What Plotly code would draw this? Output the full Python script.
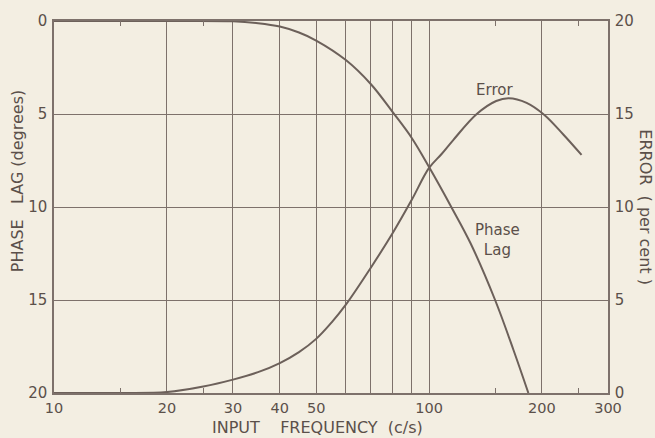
import plotly.graph_objects as go

# Phase lag (degrees) against input frequency (c/s)
lag_freq = [10, 20, 30, 35, 40, 45, 50, 60, 70, 80, 90, 100, 115, 129, 150, 168, 184]
lag_deg = [0, 0, 0.02, 0.12, 0.3, 0.62, 1.05, 2.1, 3.4, 4.9, 6.3, 7.85, 10.05, 11.95, 15.0, 17.7, 20.0]

# Error (per cent) against input frequency (c/s)
err_freq = [10, 15, 20, 25, 30, 35, 40, 45, 50, 55, 60, 70, 80, 90, 100, 108, 116, 134, 151, 163,
            182, 203, 228, 255]
err_pct = [0, 0, 0.05, 0.35, 0.72, 1.12, 1.61, 2.2, 2.91, 3.8, 4.75, 6.75, 8.6, 10.4, 12.1, 12.85,
           13.6, 15.0, 15.7, 15.85, 15.6, 14.95, 13.9, 12.8]

# Axis ticks
x_grid = [10, 20, 30, 40, 50, 60, 70, 80, 90, 100, 200, 300]
x_labels = ["10", "20", "30", "40", "50", "", "", "", "", "100", "200", "300"]
x_minor = [15, 25, 150, 250]
lag_ticks = [0, 5, 10, 15, 20]
err_ticks = [0, 5, 10, 15, 20]

BG = "#f3eee2"
INK = "#5b504a"
LINE = "#7d716b"
CURVE = "#6c605a"
FONT = "DejaVu Sans"
X_RANGE = [1, 2.4771]

fig = go.Figure()
fig.add_trace(go.Scatter(x=lag_freq, y=lag_deg, mode="lines", xaxis="x", yaxis="y",
                         line=dict(color=CURVE, width=2, shape="spline", smoothing=1.0),
                         showlegend=False, hoverinfo="skip"))
fig.add_trace(go.Scatter(x=err_freq, y=err_pct, mode="lines", xaxis="x2", yaxis="y2",
                         line=dict(color=CURVE, width=2, shape="spline", smoothing=1.0),
                         showlegend=False, hoverinfo="skip"))
# empty trace that binds the bottom short-tick axis
fig.add_trace(go.Scatter(x=[], y=[], xaxis="x3", yaxis="y", mode="lines",
                         showlegend=False, hoverinfo="skip"))

axis_common = dict(showline=True, linecolor=LINE, linewidth=1.5, gridcolor=LINE,
                   gridwidth=1.2, zeroline=False)
short_ticks = dict(type="log", range=X_RANGE, overlaying="x", showgrid=False, showline=False,
                   showticklabels=False, zeroline=False, tickvals=x_minor, ticks="inside",
                   ticklen=5, tickcolor=LINE, tickwidth=1.2)

fig.update_layout(
    width=655, height=438,
    margin=dict(l=54, r=47, t=15, b=45),
    paper_bgcolor=BG, plot_bgcolor=BG,
    xaxis=dict(type="log", range=X_RANGE, tickvals=x_grid, ticktext=x_labels,
               ticks="", showgrid=True, mirror=True, ticklabelstandoff=1,
               tickfont=dict(family=FONT, size=14.5, color=INK), **axis_common),
    xaxis2=dict(side="top", anchor="y2", **short_ticks),
    xaxis3=dict(side="bottom", anchor="y", **short_ticks),
    yaxis=dict(range=[20, 0], tickvals=lag_ticks, ticks="", showgrid=True, mirror=True,
               ticklabelstandoff=2, tickfont=dict(family=FONT, size=15, color=INK),
               **axis_common),
    yaxis2=dict(range=[0, 20], tickvals=err_ticks, ticks="", overlaying="y", side="right",
                showgrid=False, ticklabelstandoff=2,
                tickfont=dict(family=FONT, size=15, color=INK), **axis_common),
    annotations=[
        dict(text="PHASE   LAG (degrees)", xref="paper", yref="paper", x=-0.067, y=0.569,
             xanchor="center", yanchor="middle", textangle=-90, showarrow=False,
             font=dict(family=FONT, size=16, color=INK)),
        dict(text="ERROR  ( per cent )", xref="paper", yref="paper", x=1.068, y=0.5,
             xanchor="center", yanchor="middle", textangle=90, showarrow=False,
             font=dict(family=FONT, size=16, color=INK)),
        dict(text="INPUT    FREQUENCY  (c/s)", xref="paper", yref="paper", x=0.4765, y=-0.0926,
             xanchor="center", yanchor="middle", showarrow=False,
             font=dict(family=FONT, size=16, color=INK)),
        dict(text="Error", xref="paper", yref="paper", x=0.796, y=0.815,
             xanchor="center", yanchor="middle", showarrow=False,
             font=dict(family=FONT, size=15, color=INK)),
        dict(text="Phase<br>Lag", xref="paper", yref="paper", x=0.801, y=0.41,
             xanchor="center", yanchor="middle", showarrow=False,
             font=dict(family=FONT, size=15, color=INK)),
    ],
)

fig.write_html("out.html")
